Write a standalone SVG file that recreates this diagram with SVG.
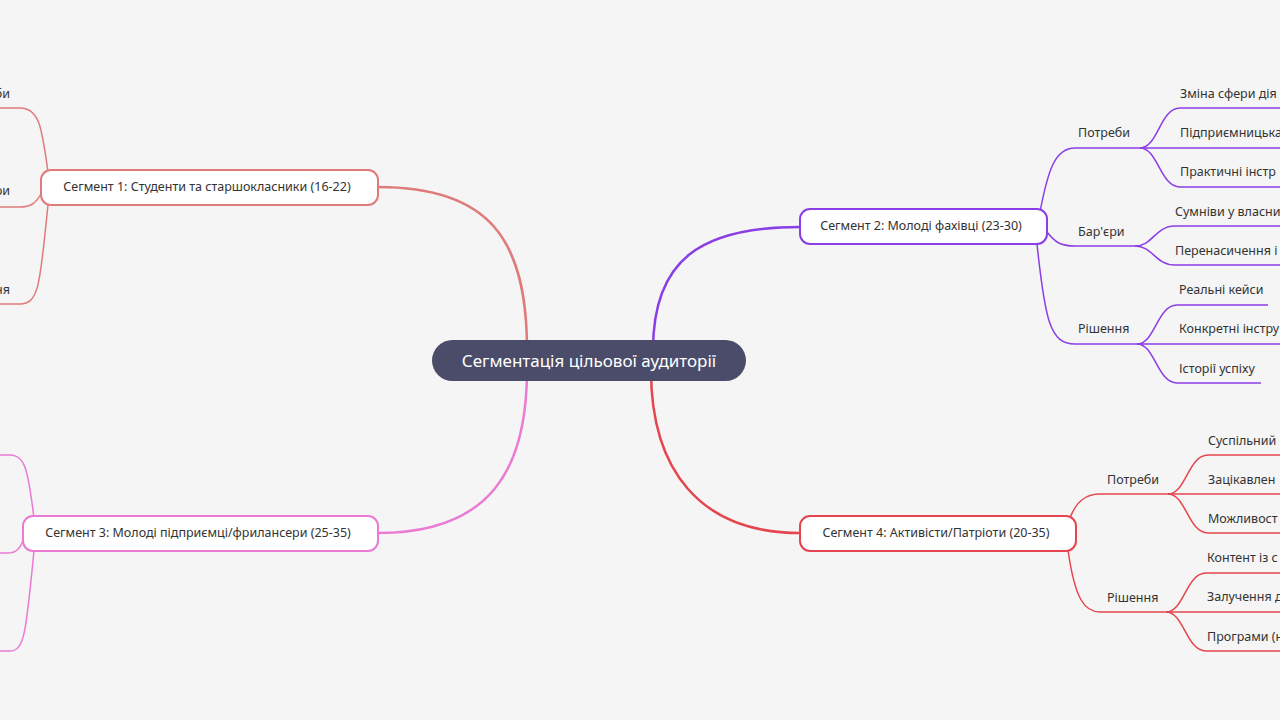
<svg xmlns="http://www.w3.org/2000/svg" width="1280" height="720" viewBox="0 0 1280 720">
<style>
text{font-family:"Noto Sans","Open Sans",sans-serif;font-size:12.5px;fill:#333}
.c{text-anchor:middle}
.e{text-anchor:end}
.seg{fill:#fff;stroke-width:2}
path{fill:none;stroke-width:1.5}
.p1{stroke:#e07b7b}.p2{stroke:#8a3ee6}.p3{stroke:#ea7ad3}.p4{stroke:#e5454f}
.m{stroke-width:2.5}
</style>
<rect width="1280" height="720" fill="#f5f5f5"/>
<g id="connectors">
<path class="p1 m" d="M527,350 C527,240 490,187 378,187"/>
<path class="p3 m" d="M527,370 C527,470 490,533 378,533"/>
<path class="p2 m" d="M653,350 C653,260 700,227 800,227"/>
<path class="p4 m" d="M651,370 C651,470 700,533 800,533"/>
<path class="p1" d="M48,172 C42,130 40,108 20,108 H0"/>
<path class="p1" d="M42,192 C36,204 30,207 20,207 H0"/>
<path class="p1" d="M48,205 C40,280 40,304 20,304 H0"/>
<path class="p3" d="M34,518 C28,470 25,455 10,455 H0"/>
<path class="p3" d="M24,538 C20,550 15,553 8,553 H0"/>
<path class="p3" d="M34,551 C26,630 25,651 10,651 H0"/>
<path class="p2" d="M1040,212 C1048,170 1055,148 1075,148 H1140"/>
<path class="p2" d="M1047,232 C1055,242 1060,246 1075,246 H1135"/>
<path class="p2" d="M1037,244 C1045,320 1050,344 1075,344 H1137"/>
<path class="p2" d="M1140,148 C1158,148 1160,108 1180,108 H1280"/>
<path class="p2" d="M1140,148 H1280"/>
<path class="p2" d="M1140,148 C1158,148 1160,187 1180,187 H1280"/>
<path class="p2" d="M1135,246 C1153,246 1155,226 1175,226 H1280"/>
<path class="p2" d="M1135,246 C1153,246 1155,265 1175,265 H1280"/>
<path class="p2" d="M1137,344 C1155,344 1157,305 1177,305 H1268"/>
<path class="p2" d="M1137,344 H1280"/>
<path class="p2" d="M1137,344 C1155,344 1157,383 1177,383 H1261"/>
<path class="p4" d="M1070,518 C1076,502 1085,494 1100,494 H1168"/>
<path class="p4" d="M1068,550 C1075,600 1085,612 1100,612 H1166"/>
<path class="p4" d="M1168,494 C1186,494 1188,455 1208,455 H1280"/>
<path class="p4" d="M1168,494 H1280"/>
<path class="p4" d="M1168,494 C1186,494 1188,533 1208,533 H1280"/>
<path class="p4" d="M1166,612 C1184,612 1186,573 1206,573 H1280"/>
<path class="p4" d="M1166,612 H1280"/>
<path class="p4" d="M1166,612 C1184,612 1186,651 1206,651 H1280"/>
</g>
<g id="root"><rect x="432" y="340" width="314" height="41" rx="20.5" fill="#4a4c6a"/><text class="c" x="589" y="367" style="font-size:17px;fill:#fff">Сегментація цільової аудиторії</text></g>
<g id="seg1"><rect class="seg" x="41" y="170" width="337" height="35" rx="10" stroke="#e07b7b"/><text class="c" x="207" y="191">Сегмент 1: Студенти та старшокласники (16-22)</text></g>
<g id="seg2"><rect class="seg" x="800" y="209" width="247" height="35" rx="10" stroke="#8a3ee6"/><text class="c" x="921" y="230">Сегмент 2: Молоді фахівці (23-30)</text></g>
<g id="seg3"><rect class="seg" x="23" y="516" width="355" height="35" rx="10" stroke="#ea7ad3"/><text class="c" x="198" y="537">Сегмент 3: Молоді підприємці/фрилансери (25-35)</text></g>
<g id="seg4"><rect class="seg" x="800" y="516" width="276" height="35" rx="10" stroke="#e5454f"/><text class="c" x="936" y="537">Сегмент 4: Активісти/Патріоти (20-35)</text></g>
<g id="s1c"><text class="e" x="10" y="98">би</text><text class="e" x="10" y="195">ри</text><text class="e" x="10" y="294">ня</text></g>
<g id="s2c">
<text x="1078" y="137">Потреби</text><text x="1078" y="236">Бар'єри</text><text x="1078" y="333">Рішення</text>
<text x="1180" y="98">Зміна сфери дія</text><text x="1180" y="137">Підприємницька</text><text x="1180" y="176">Практичні інстр</text>
<text x="1175" y="216">Сумніви у власни</text><text x="1175" y="255">Перенасичення і</text>
<text x="1179" y="294">Реальні кейси</text><text x="1179" y="333">Конкретні інстру</text><text x="1179" y="373">Історії успіху</text>
</g>
<g id="s4c">
<text x="1107" y="484">Потреби</text><text x="1107" y="602">Рішення</text>
<text x="1208" y="445">Суспільний</text><text x="1208" y="484">Зацікавлен</text><text x="1208" y="523">Можливост</text>
<text x="1207" y="562">Контент із с</text><text x="1207" y="601">Залучення д</text><text x="1207" y="641">Програми (н</text>
</g>
</svg>
